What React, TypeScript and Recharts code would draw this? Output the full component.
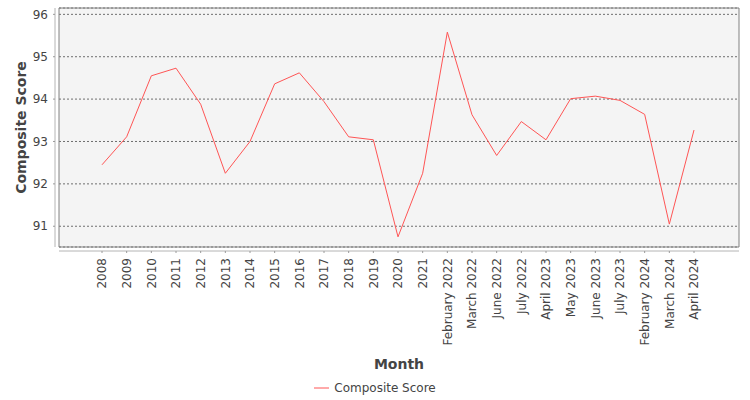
import { LineChart, Line, XAxis, YAxis, CartesianGrid, Legend, ReferenceArea } from "recharts";

const MONTHS = [
  "2008", "2009", "2010", "2011", "2012", "2013", "2014", "2015", "2016", "2017",
  "2018", "2019", "2020", "2021", "February 2022", "March 2022", "June 2022",
  "July 2022", "April 2023", "May 2023", "June 2023", "July 2023",
  "February 2024", "March 2024", "April 2024",
];

const COMPOSITE_SCORE = [
  92.45, 93.11, 94.55, 94.73, 93.88, 92.25, 93.0, 94.36, 94.62, 93.94,
  93.11, 93.04, 90.75, 92.25, 95.58, 93.63, 92.67,
  93.47, 93.04, 94.01, 94.07, 93.97,
  93.64, 91.05, 93.27,
];

const Y_TICKS = [91, 92, 93, 94, 95, 96];
const Y_DOMAIN: [number, number] = [90.51, 96.15];

const LINE_COLOR = "#ff5555";
const TEXT_COLOR = "#444444";

const data = MONTHS.map((month, i) => ({ month, score: COMPOSITE_SCORE[i] }));

function MonthTick({ x, y, payload }: any) {
  return (
    <text
      x={x}
      y={y}
      dy="0.35em"
      textAnchor="end"
      transform={`rotate(-90, ${x}, ${y})`}
      fontSize={12}
      fill={TEXT_COLOR}
    >
      {payload.value}
    </text>
  );
}

function MonthLabel({ viewBox }: any) {
  const { x, y, width } = viewBox;
  return (
    <text
      x={x + width / 2}
      y={y + 117}
      textAnchor="middle"
      dominantBaseline="central"
      fontSize={14}
      fontWeight="bold"
      fill={TEXT_COLOR}
    >
      Month
    </text>
  );
}

function ScoreLabel({ viewBox }: any) {
  const { y, height } = viewBox;
  const cx = 21;
  const cy = y + height / 2;
  return (
    <text
      x={cx}
      y={cy}
      textAnchor="middle"
      dominantBaseline="central"
      transform={`rotate(-90, ${cx}, ${cy})`}
      fontSize={14}
      fontWeight="bold"
      fill={TEXT_COLOR}
    >
      Composite Score
    </text>
  );
}

function LegendContent({ payload }: any) {
  return (
    <div style={{ textAlign: "center", lineHeight: "24px", fontSize: 12, color: TEXT_COLOR }}>
      {(payload || []).map((entry: any) => (
        <span key={entry.value}>
          <svg width={16} height={10} style={{ verticalAlign: "middle", marginRight: 4 }}>
            <line x1={0} y1={5} x2={15} y2={5} stroke={entry.color} strokeWidth={1} />
          </svg>
          <span style={{ verticalAlign: "middle" }}>{entry.value}</span>
        </span>
      ))}
    </div>
  );
}

export default function App() {
  return (
    <div style={{ position: "absolute", left: 0, top: 0, fontFamily: "'DejaVu Sans', sans-serif" }}>
      <LineChart
        width={750}
        height={400}
        data={data}
        margin={{ top: 8, right: 11, left: 0, bottom: 1 }}
      >
        <CartesianGrid vertical={false} fill="#f4f4f4" stroke="#6e6e6e" strokeDasharray="2 2" />
        <XAxis
          dataKey="month"
          interval={0}
          padding={{ left: 43, right: 45 }}
          height={128}
          tickSize={2}
          tickMargin={9}
          axisLine={{ stroke: "#b4b4b4", transform: "translate(0,4)" } as any}
          tickLine={{ stroke: "#9a9a9a", transform: "translate(0,4)" } as any}
          tick={<MonthTick />}
          label={<MonthLabel />}
        />
        <XAxis
          xAxisId="frame"
          dataKey="frame"
          type="number"
          domain={[0, 1]}
          allowDataOverflow
          hide
        />
        <YAxis
          width={59}
          domain={Y_DOMAIN}
          ticks={Y_TICKS}
          allowDataOverflow
          tickSize={2}
          tickMargin={9}
          axisLine={{ stroke: "#b4b4b4", transform: "translate(-4,0)" } as any}
          tickLine={{ stroke: "#9a9a9a", transform: "translate(-4,0)" } as any}
          tick={{ fill: TEXT_COLOR, fontSize: 12 }}
          label={<ScoreLabel />}
        />
        <ReferenceArea
          xAxisId="frame"
          x1={0}
          x2={1}
          y1={Y_DOMAIN[0]}
          y2={Y_DOMAIN[1]}
          fill="none"
          stroke="#808080"
          ifOverflow="visible"
        />
        <Line
          type="linear"
          dataKey="score"
          name="Composite Score"
          stroke={LINE_COLOR}
          strokeWidth={1}
          dot={false}
          activeDot={false}
          isAnimationActive={false}
        />
        <Legend
          verticalAlign="bottom"
          height={24}
          wrapperStyle={{ left: 0, width: 750 }}
          content={<LegendContent />}
        />
      </LineChart>
    </div>
  );
}
